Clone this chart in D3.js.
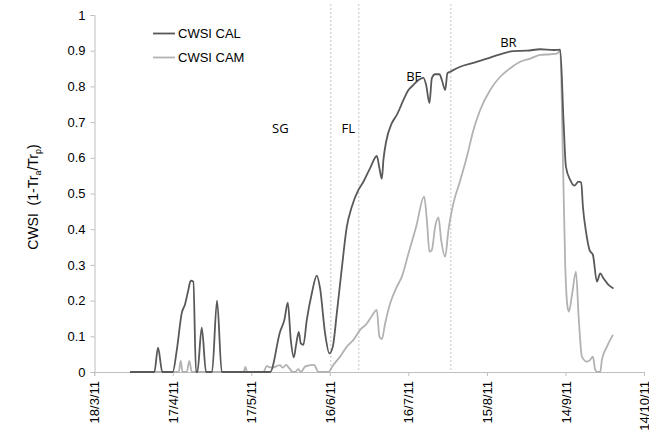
<!DOCTYPE html>
<html><head><meta charset="utf-8">
<script src="https://cdn.jsdelivr.net/npm/d3@7"></script>
<style>
body{margin:0;background:#fff;}
svg{display:block;font-family:"Liberation Sans",Arial,sans-serif;}
</style></head>
<body><svg id="c" width="649" height="430"></svg>
<script>
// days since 18/3/11
const calDay = [13.68,22.97,24.38,26.02,30.0,31.52,33.44,34.70,35.96,36.87,37.87,38.90,39.40,41.08,42.72,45.01,46.92,48.72,49.98,
  67.18,71.0,72.64,73.94,75.09,76.23,77.11,78.14,78.91,79.90,81.20,83.11,85.02,86.28,88.19,89.84,91.14,92.66,94.57,96.49,98.40,100.92,
  102.83,105.39,107.95,108.94,109.86,110.47,111.50,113.68,115.59,117.12,118.11,120.03,121.94,123.84,125.76,126.79,128.05,128.97,130.23,
  131.87,132.79,134.05,134.93,135.96,139.78,144.86,149.98,155.06,160.15,165.27,170.35,175.43,178.0,179.25,180.17,181.81,183.34,184.99,
  186.02,186.67,187.93,189.19,190.49,192.02,193.28,194.54,196.45,198.36];
const calVal = [0,0,0.068,0,0,0.06,0.165,0.19,0.23,0.256,0.253,0,0,0.124,0,0,0.2,0,0,
  0,0.113,0.146,0.194,0.09,0.041,0.076,0.112,0.08,0.076,0.146,0.22,0.27,0.234,0.108,0.052,0.071,0.164,0.29,0.407,0.463,0.51,
  0.533,0.571,0.605,0.571,0.541,0.594,0.645,0.697,0.72,0.745,0.762,0.79,0.804,0.818,0.824,0.804,0.753,0.823,0.834,
  0.834,0.818,0.79,0.837,0.841,0.855,0.866,0.878,0.89,0.899,0.9,0.904,0.902,0.903,0.706,0.575,0.538,0.522,0.533,
  0.531,0.463,0.389,0.342,0.328,0.253,0.276,0.262,0.244,0.234];
const camDay = [13.68,32.29,33.05,33.74,35.35,36.34,37.26,57.05,57.74,58.39,64.62,65.92,67.18,68.44,69.85,71.0,72.03,73.29,74.55,75.85,
  76.73,77.99,78.91,80.55,82.46,83.99,85.63,89.46,91.37,93.93,96.49,99.01,101.57,104.13,106.04,107.95,108.94,109.86,111.12,113.03,115.59,
  117.51,120.03,122.97,126.02,127.06,128.05,128.97,130.23,131.49,132.52,134.05,135.31,137.22,139.78,142.34,144.86,147.42,151.24,155.06,
  158.89,162.71,166.53,170.35,174.17,176.73,178.0,179.02,179.91,180.78,181.32,182.58,184.0,185.07,186.29,188.20,189.46,190.49,191.37,
  192.25,193.28,193.93,195.84,198.13];
const camVal = [0,0,0.032,0,0,0.031,0,0,0.014,0,0,0.017,0.013,0.013,0.017,0.019,0.012,0.02,0.01,0,
  0,0.008,0,0.015,0.019,0.02,0,0,0.02,0.043,0.071,0.09,0.118,0.136,0.157,0.174,0.099,0.092,0.136,0.192,0.239,
  0.267,0.332,0.407,0.491,0.426,0.337,0.342,0.407,0.433,0.37,0.323,0.398,0.473,0.536,0.603,0.678,0.734,0.79,0.827,
  0.851,0.869,0.878,0.888,0.89,0.892,0.9,0.6,0.3,0.183,0.169,0.22,0.281,0.15,0.043,0.029,0.034,0.043,0.006,
  0,0,0.034,0.071,0.104];
const seriesNames = ["CWSI CAL","CWSI CAM"];
const phaseDay = [90.37,101.07,136.23];
const phaseLabels = ["SG","FL","BF","BR"];
const phaseLabelDay = [67.94,94.5,119.15,155.07];
const phaseLabelVal = [0.67,0.67,0.815,0.91];
const yTicks = [0,0.1,0.2,0.3,0.4,0.5,0.6,0.7,0.8,0.9,1];
const xTickDays = [0,30,60,90,120,150,180,210];

const start = new Date(Date.UTC(2011,2,18));
const day = d => start.getTime() + d*86400000;
const svg = d3.select("#c");
const x = d3.scaleUtc().domain([start, d3.utcDay.offset(start,210)]).range([94.2,644]);
const y = d3.scaleLinear().domain([0,1]).range([372,15]);
const axisCol = "#bfbfbf";

// y axis
const ya = svg.append("g").attr("transform","translate(94.5,0)")
  .call(d3.axisLeft(y).tickValues(yTicks).tickSize(4).tickFormat(d=>d===0||d===1?String(d):d.toFixed(1)));
ya.select(".domain").attr("stroke",axisCol);
ya.selectAll(".tick line").attr("stroke",axisCol);
ya.selectAll("text").attr("font-size",13).attr("fill","#000").attr("font-family","Liberation Sans, Arial, sans-serif").attr("x",-9);

// x axis
const fmt = d => d.getUTCDate()+"/"+(d.getUTCMonth()+1)+"/11";
const xa = svg.append("g").attr("transform","translate(0,372)")
  .call(d3.axisBottom(x).tickValues(xTickDays.map(d=>d3.utcDay.offset(start,d))).tickSize(4).tickFormat(fmt));
xa.select(".domain").attr("stroke",axisCol);
xa.selectAll(".tick line").attr("stroke",axisCol);
xa.selectAll("text").attr("font-size",13).attr("fill","#000").attr("font-family","Liberation Sans, Arial, sans-serif")
  .attr("transform","rotate(-90)").attr("text-anchor","end").attr("x",-9).attr("y",0).attr("dy","0.35em");

// phase dotted lines
svg.append("g").selectAll("line").data(phaseDay).join("line")
  .attr("x1",d=>x(day(d))).attr("x2",d=>x(day(d))).attr("y1",4).attr("y2",372)
  .attr("stroke","#c4c4c4").attr("stroke-width",1).attr("stroke-dasharray","2,2");

// lines
const line = d3.line().x(d=>x(day(d[0]))).y(d=>y(d[1])).curve(d3.curveMonotoneX);
const cols = ["#595959","#b2b2b2"];
const data = [d3.zip(calDay,calVal), d3.zip(camDay,camVal)];
svg.append("g").selectAll("path").data(data.slice().reverse()).join("path")
  .attr("d",line).attr("fill","none").attr("stroke",(d,i)=>cols[1-i]).attr("stroke-width",1.8).attr("stroke-linejoin","round");

// phase labels
svg.append("g").selectAll("text").data(phaseLabels).join("text")
  .attr("x",(d,i)=>x(day(phaseLabelDay[i]))).attr("y",(d,i)=>y(phaseLabelVal[i]))
  .attr("font-family","Open Sans, Lato, sans-serif").attr("font-size",13).attr("fill","#000").text(d=>d);

// legend
const lg = svg.append("g");
seriesNames.forEach((n,i)=>{
  lg.append("line").attr("x1",153).attr("x2",175).attr("y1",33.5+24*i).attr("y2",33.5+24*i).attr("stroke",cols[i]).attr("stroke-width",1.8);
  lg.append("text").attr("x",178).attr("y",33.5+24*i).attr("dy","0.35em").attr("font-size",13).attr("fill","#000").text(n);
});

// y label
const yl = svg.append("text").attr("transform","translate(38,197) rotate(-90)").attr("text-anchor","middle")
  .attr("font-size",14).attr("fill","#000");
yl.append("tspan").text("CWSI\u00a0\u00a0(1-Tr");
yl.append("tspan").attr("font-size",9).attr("dy",3).text("a");
yl.append("tspan").attr("dy",-3).text("/Tr");
yl.append("tspan").attr("font-size",9).attr("dy",3).text("p");
yl.append("tspan").attr("dy",-3).text(")");
</script></body></html>
